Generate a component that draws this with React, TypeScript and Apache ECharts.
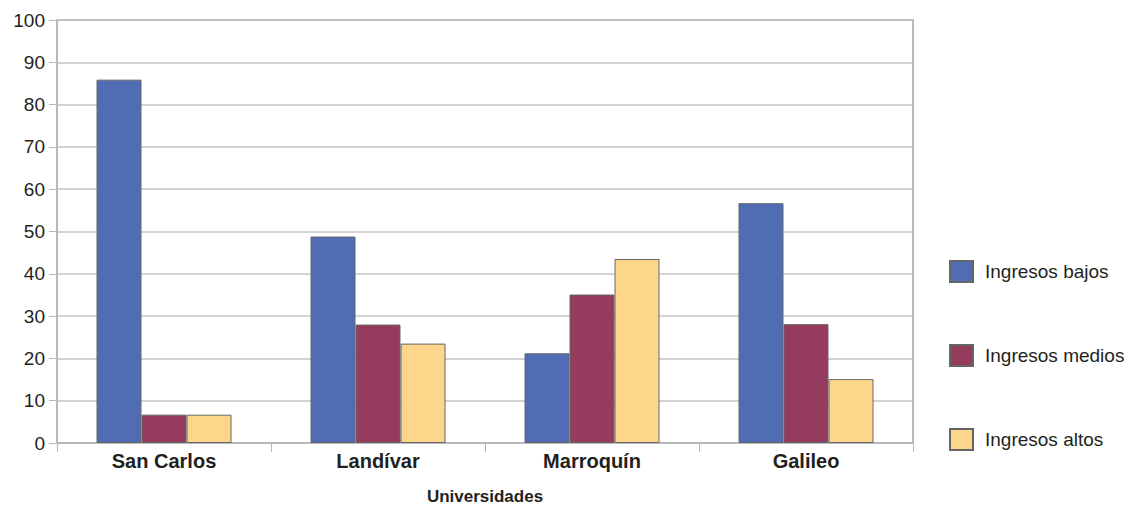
import React, { useEffect, useRef } from "react";
import * as echarts from "echarts";

const universidades = ["San Carlos", "Landívar", "Marroquín", "Galileo"];
const ingresosBajos = [85.9, 48.8, 21.2, 56.7];
const ingresosMedios = [6.7, 28.0, 35.1, 28.1];
const ingresosAltos = [6.7, 23.5, 43.5, 15.1];
const seriesNames = ["Ingresos bajos", "Ingresos medios", "Ingresos altos"];
const seriesColors = ["#506cb5", "#953b5d", "#fdd68b"];

const FONT = "'Liberation Sans', Arial, Helvetica, sans-serif";
const GRAY = "#b8b8bd";
const TEXT = "#231f20";

export default function App() {
  const ref = useRef<HTMLDivElement>(null);

  useEffect(() => {
    if (!ref.current) return;
    const chart = echarts.init(ref.current, undefined, { renderer: "svg" });
    const values = [ingresosBajos, ingresosMedios, ingresosAltos];
    chart.setOption({
      animation: false,
      backgroundColor: "#ffffff",
      textStyle: { fontFamily: FONT },
      grid: {
        left: 57,
        right: 220,
        top: 20,
        bottom: 67,
        outerBoundsMode: "none",
        containLabel: false,
        show: true,
        borderColor: GRAY,
        borderWidth: 2,
      },
      legend: {
        orient: "vertical",
        left: 949,
        top: 260,
        padding: 0,
        itemWidth: 23,
        itemHeight: 21,
        itemGap: 61,
        icon: "rect",
        textStyle: { fontSize: 19, color: TEXT, fontFamily: FONT, padding: [0, 0, 0, 7] },
        data: seriesNames,
      },
      xAxis: {
        type: "category",
        data: universidades,
        name: "Universidades",
        nameLocation: "middle",
        nameGap: 45,
        nameTextStyle: { fontSize: 17, fontWeight: "bold", color: TEXT },
        axisLine: { lineStyle: { color: GRAY, width: 2 } },
        axisTick: { show: true, length: 9, lineStyle: { color: GRAY, width: 1 } },
        axisLabel: { fontSize: 20, fontWeight: "bold", color: TEXT, margin: 8 },
      },
      yAxis: {
        type: "value",
        min: 0,
        max: 100,
        interval: 10,
        axisLine: { show: true, lineStyle: { color: GRAY, width: 2 } },
        axisTick: { show: true, length: 8, lineStyle: { color: GRAY, width: 1 } },
        axisLabel: { fontSize: 19, color: TEXT, margin: 12 },
        splitLine: { lineStyle: { color: "#c4c4c8", width: 1.5 } },
      },
      series: seriesNames.map((name, i) => ({
        name,
        type: "bar",
        data: values[i],
        barWidth: 45,
        barGap: "0%",
        itemStyle: {
          color: seriesColors[i],
          borderColor: "#666666",
          borderWidth: 1,
        },
      })),
    });
    return () => chart.dispose();
  }, []);

  return (
    <div
      ref={ref}
      style={{ width: 1133, height: 510, position: "absolute", left: 0, top: 0 }}
    />
  );
}
